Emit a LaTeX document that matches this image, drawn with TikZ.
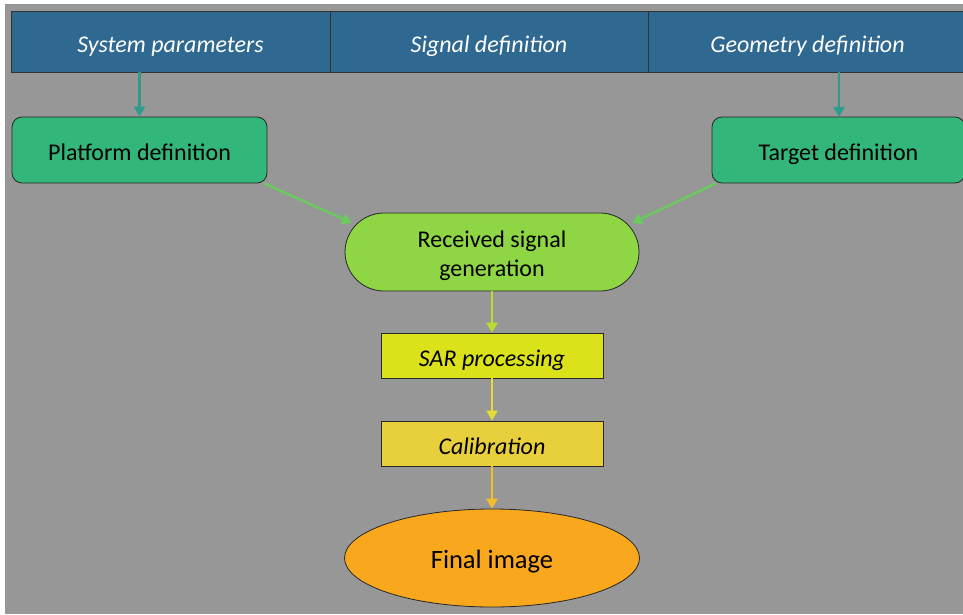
\documentclass[tikz,border=0pt]{standalone}
\usepackage{fontspec}
\setmainfont{Carlito}
\usetikzlibrary{shapes.geometric,shapes.misc,arrows.meta}
\definecolor{bgGray}{HTML}{979797}
\definecolor{headBlue}{HTML}{2F6890}
\definecolor{boxGreen}{HTML}{33B67A}
\definecolor{lime}{HTML}{8FD645}
\definecolor{sarYellow}{HTML}{DCE21A}
\definecolor{calYellow}{HTML}{E8CF3C}
\definecolor{finalOrange}{HTML}{F9A81E}
\definecolor{tealArrow}{HTML}{2E9C8C}
\definecolor{greenArrow}{HTML}{6ACB5E}
\definecolor{limeArrow}{HTML}{B8DC30}
\definecolor{yellowArrow}{HTML}{E6D93A}
\definecolor{orangeArrow}{HTML}{F2BE2A}
\tikzset{
  lowtext/.style={text height=21pt, text depth=0pt},
  headcell/.style={draw=black!80, line width=0.8pt, fill=headBlue, text=white, lowtext,
    minimum height=61pt, font=\fontsize{24}{28}\selectfont\itshape, inner sep=0pt},
  greenbox/.style={draw=black!85, line width=0.8pt, fill=boxGreen, rounded corners=10pt,
    lowtext, inner sep=0pt, minimum width=255pt, minimum height=66pt,
    font=\fontsize{24}{28}\selectfont},
  stadium/.style={draw=black!85, line width=0.8pt, fill=lime, rounded rectangle,
    minimum width=294pt, minimum height=78pt, inner sep=0pt},
  stadiumtext/.style={align=center, inner sep=0pt, font=\fontsize{24}{29}\selectfont},
  procbox/.style={draw=black!85, line width=0.8pt, minimum width=222pt, minimum height=45pt,
    lowtext, inner sep=0pt, font=\fontsize{24}{28}\selectfont\itshape},
  oval/.style={draw=black!85, line width=0.8pt, fill=finalOrange, ellipse,
    minimum width=295pt, minimum height=98pt, inner sep=0pt, lowtext,
    font=\fontsize{26.5}{30}\selectfont},
  flow/.style={line width=2.4pt, -{Triangle[length=10pt,width=11pt]}}
}
\begin{document}
\begin{tikzpicture}[x=1pt, y=-1pt]
  \useasboundingbox (0,0) rectangle (963,614);
  \clip (0,0) rectangle (963,614);
  \fill[bgGray] (5,4) rectangle (963,614);

  % header row of three cells
  \node[headcell, minimum width=319pt] (sys) at (170.5,41.5) {System parameters};
  \node[headcell, minimum width=318pt] (sig) at (489,41.5) {Signal definition};
  \node[headcell, minimum width=319pt] (geo) at (807.5,41.5) {Geometry definition};

  % definition boxes
  \node[greenbox] (plat) at (139.5,150) {Platform definition};
  \node[greenbox, minimum width=253pt] (targ) at (838.5,150) {Target definition};

  % signal generation and processing chain
  \node[stadium] (recv) at (492,252) {};
  \node[stadiumtext] (recvText) at ([yshift=-3.5pt]recv.center) {Received signal\\generation};
  \node[procbox, fill=sarYellow] (sar) at (492,355.5) {SAR processing};
  \node[procbox, fill=calYellow] (cal) at (492,443.5) {Calibration};
  \node[oval] (final) at (492,558) {Final image};

  % connectors
  \coordinate (geoDrop) at (839,72);
  \coordinate (targTop) at (839,117);
  \draw[flow, tealArrow] (sys.south -| plat.north) -- (plat.north);
  \draw[flow, tealArrow] (geoDrop) -- (targTop);
  \draw[flow, greenArrow] ([xshift=-3pt]plat.south east) -- (352,223);
  \draw[flow, greenArrow] ([xshift=4pt]targ.south west) -- (632,223);
  \draw[flow, limeArrow] (recv.south) -- (sar.north);
  \draw[flow, yellowArrow] (sar.south) -- (cal.north);
  \draw[flow, orangeArrow] (cal.south) -- (final.north);
\end{tikzpicture}
\end{document}
